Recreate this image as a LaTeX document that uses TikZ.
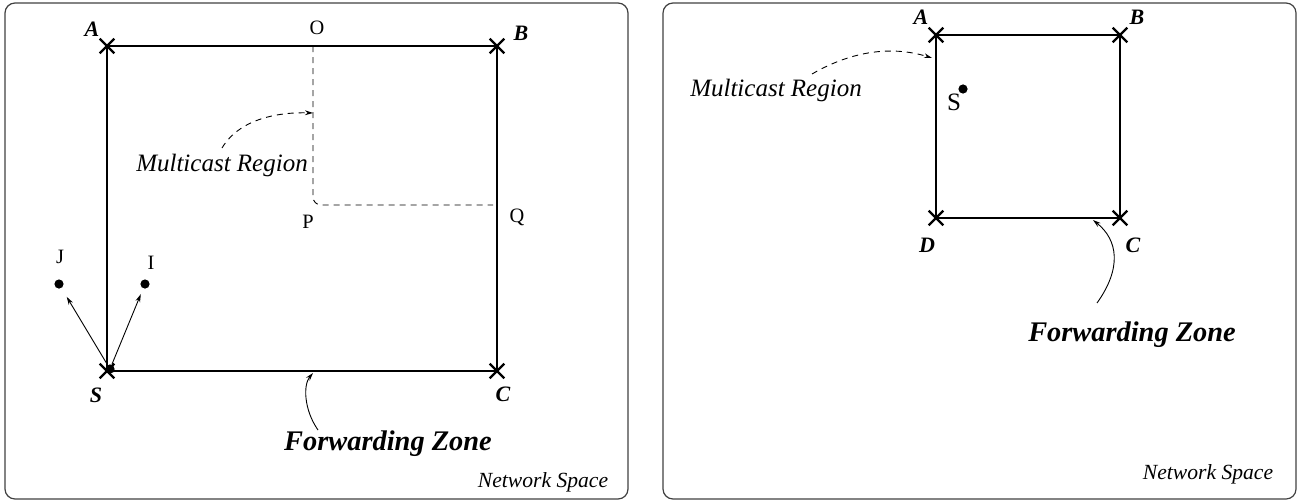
\documentclass[tikz,border=0pt]{standalone}
\usepackage{fontspec}
\setmainfont{Liberation Serif}
\usetikzlibrary{arrows.meta,shapes.misc}

\tikzset{
  frame/.style={draw=black!75, line width=0.6pt, rounded corners=5pt},
  zone/.style={line width=1.2pt},
  crossmark/.style={cross out, draw, line width=1.1pt, minimum size=6.2pt, inner sep=0pt},
  corner/.style={font=\fontsize{11}{13}\selectfont\bfseries\itshape, inner sep=0pt},
  plain/.style={font=\fontsize{10.2}{12}\selectfont, inner sep=0pt},
  bigplain/.style={font=\fontsize{12.5}{14}\selectfont, inner sep=0pt},
  dot/.style={circle, fill, inner sep=0pt, minimum size=4.6pt},
  region/.style={dashed, line width=0.45pt, dash pattern=on 3pt off 2.5pt},
  pointer/.style={line width=0.45pt, -{Stealth[length=4pt,width=2.4pt]}},
  mclabel/.style={font=\fontsize{12.5}{14}\selectfont\itshape, inner sep=0pt},
  fzlabel/.style={font=\fontsize{14.2}{16}\selectfont\bfseries\itshape, inner sep=0pt},
  nslabel/.style={font=\fontsize{10.8}{12}\selectfont\itshape, inner sep=0pt},
}

\begin{document}
\begin{tikzpicture}[x=0.5pt,y=-0.5pt]
\useasboundingbox (0,0) rectangle (1299,503);

% ---------------- left panel ----------------
\draw[frame] (5,3) rectangle (628,499);

\coordinate (lA) at (107,46);
\coordinate (lB) at (497,46);
\coordinate (lC) at (497,371);
\coordinate (lS) at (107,371);
\draw[zone] (lA) -- (lB) -- (lC) -- (lS) -- cycle;
\foreach \c in {lA,lB,lC,lS} \node[crossmark] (x\c) at (\c) {};

\node[corner] (labA) at (92,29) {A};
\node[corner] (labB) at (521,33) {B};
\node[corner] (labC) at (503,394) {C};
\node[corner] (labS) at (96,395) {S};

% multicast region (dashed)
\coordinate (rO) at (313,46);
\coordinate (rP) at (313,205);
\coordinate (rQ) at (493,205);
\draw[region, rounded corners=4pt] (rO) -- (rP) -- (rQ);
\node[plain] (labO) at (317,28) {O};
\node[plain] (labP) at (308,222) {P};
\node[plain] (labQ) at (517,217) {Q};

\node[mclabel] (lmc) at (222,165) {Multicast Region};
\coordinate (lmcStart) at (222,148);
\coordinate (lmcEnd) at (313,113);
\draw[region, -{Stealth[length=4pt,width=2.4pt]}] (lmcStart) .. controls (240,118) and (280,112) .. (lmcEnd);

% nodes J, I and the source S
\node[dot] (dJ) at (59,284) {};
\node[dot] (dI) at (145,284) {};
\node[dot] (dS) at (110,369) {};
\node[plain] (labJ) at (60,257) {J};
\node[plain] (labI) at (151,263) {I};
\draw[pointer, shorten >=5pt] (dS) -- (dJ);
\draw[pointer, shorten >=3pt] (dS) -- (dI);

% forwarding zone
\node[fzlabel] (lfz) at (388,444) {Forwarding Zone};
\coordinate (lfzStart) at (318,430);
\coordinate (lfzEnd) at (313,373);
\draw[pointer] (lfzStart) .. controls (304,410) and (303,385) .. (lfzEnd);

\node[nslabel] (lns) at (543,482) {Network Space};

% ---------------- right panel ----------------
\draw[frame] (663,3) rectangle (1296,499);

\coordinate (rA) at (936,35);
\coordinate (rB) at (1120,35);
\coordinate (rC) at (1120,218);
\coordinate (rD) at (936,218);
\draw[zone] (rA) -- (rB) -- (rC) -- (rD) -- cycle;
\foreach \c in {rA,rB,rC,rD} \node[crossmark] (x\c) at (\c) {};

\node[corner] (rlabA) at (921,17) {A};
\node[corner] (rlabB) at (1137,17) {B};
\node[corner] (rlabC) at (1133,245) {C};
\node[corner] (rlabD) at (927,245) {D};

\node[dot] (rdS) at (963,89) {};
\node[bigplain] (rlabS) at (954,102) {S};

\node[mclabel] (rmc) at (776,90) {Multicast Region};
\coordinate (rmcStart) at (812,74);
\coordinate (rmcEnd) at (932,58);
\draw[region, -{Stealth[length=4pt,width=2.4pt]}] (rmcStart) .. controls (850,52) and (890,45) .. (rmcEnd);

\node[fzlabel] (rfz) at (1132,335) {Forwarding Zone};
\coordinate (rfzStart) at (1097,303);
\coordinate (rfzEnd) at (1093,220);
\draw[pointer] (rfzStart) .. controls (1122,268) and (1118,240) .. (rfzEnd);

\node[nslabel] (rns) at (1208,474) {Network Space};
\end{tikzpicture}
\end{document}
